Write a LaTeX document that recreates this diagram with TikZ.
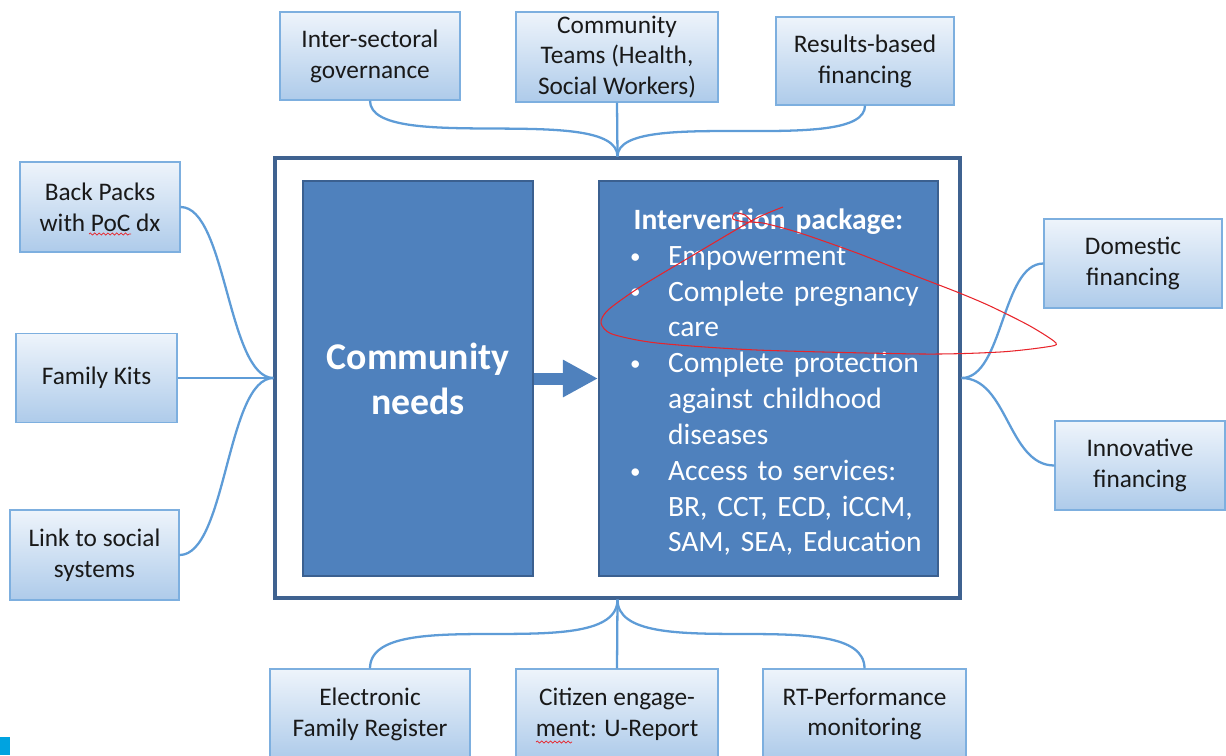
\documentclass[tikz,border=0pt]{standalone}
\usepackage{fontspec}
\setmainfont{Carlito}
\usetikzlibrary{arrows.meta,decorations.pathmorphing}
\definecolor{boxtop}{HTML}{EEF4FB}
\definecolor{boxbot}{HTML}{AECBEA}
\definecolor{boxline}{HTML}{7DAFDF}
\definecolor{linkblue}{HTML}{5E9CD7}
\definecolor{mainblue}{HTML}{4F81BD}
\definecolor{mainline}{HTML}{3B6090}
\definecolor{frameline}{HTML}{3F6290}
\definecolor{inkred}{HTML}{E8242B}
\definecolor{cornerblue}{HTML}{00A3E0}
\newcommand{\pkgitem}{\par\noindent\hspace*{0.42cm}\makebox[0.76cm][l]{\raisebox{1.2pt}{\fontsize{12}{12}\selectfont\textbullet}}}
\newcommand{\pkgcont}{\par\noindent\hspace*{1.18cm}}

\begin{document}
\begin{tikzpicture}[x=0.02cm, y=-0.02cm,
  sidebox/.style={draw=boxline, line width=0.7pt, top color=boxtop, bottom color=boxbot,
    align=center, font=\fontsize{14.4}{17.6}\selectfont, text=black!90, inner sep=0pt},
  mainbox/.style={draw=mainline, line width=1.2pt, fill=mainblue, text=white,
    minimum height=7.9cm, inner sep=0pt},
  linkline/.style={draw=linkblue, line width=1.3pt},
  squiggle/.style={inkred, line width=0.4pt, decorate,
    decoration={snake, amplitude=0.6pt, segment length=2.5pt}}]
  \useasboundingbox (0,0) rectangle (1226,755);

  \node[draw=frameline, line width=1.8pt, minimum width=13.7cm, minimum height=8.8cm, inner sep=0pt] at (617.5,378) (frame) {};

  \node[mainbox, minimum width=4.6cm, align=center, font=\bfseries\fontsize{21.5}{25.5}\selectfont] at (418,378.5) (needs) {Community\\needs};
  \node[mainbox, minimum width=6.78cm, text width=6.38cm, font=\fontsize{16.8}{20.4}\selectfont] at (768.5,378.5) (pkg) {%
    {\centering\bfseries\rule{0pt}{16pt}Intervention package:\par}
    \pkgitem Empowerment
    \pkgitem Complete pregnancy
    \pkgcont care
    \pkgitem Complete protection
    \pkgcont against childhood
    \pkgcont diseases
    \pkgitem Access to services:
    \pkgcont BR, CCT, ECD, iCCM,
    \pkgcont SAM, SEA, Education\par};

  \draw[mainblue, line width=0.24cm, -{Triangle[length=0.7cm, width=0.7cm]}] (needs) -- (pkg);

  \node[sidebox, minimum width=3.6cm, minimum height=1.76cm] at (370,56) (isg) {Inter-sectoral\\governance};
  \node[sidebox, minimum width=4.04cm, minimum height=1.8cm] at (617,57) (ctm) {Community\\Teams (Health,\\Social Workers)};
  \node[sidebox, minimum width=3.56cm, minimum height=1.76cm] at (865,61) (rbf) {Results-based\\financing};

  \node[sidebox, minimum width=3.2cm, minimum height=1.8cm] at (100,207) (bpk) {Back Packs\\with PoC dx};
  \node[sidebox, minimum width=3.22cm, minimum height=1.78cm] at (96.5,378) (fkt) {Family Kits};
  \node[sidebox, minimum width=3.38cm, minimum height=1.8cm] at (94.5,555) (lss) {Link to social\\systems};

  \node[sidebox, minimum width=3.56cm, minimum height=1.78cm] at (1133,263.5) (dom) {Domestic\\financing};
  \node[sidebox, minimum width=3.4cm, minimum height=1.78cm] at (1140,465.5) (inn) {Innovative\\financing};

  \node[sidebox, minimum width=4cm, minimum height=1.8cm] at (370,714) (efr) {Electronic\\Family Register};
  \node[sidebox, minimum width=4.04cm, minimum height=1.8cm] at (617,714) (cen) {Citizen engage-\\ment: U-Report};
  \node[sidebox, minimum width=4.06cm, minimum height=1.8cm] at (864.5,714) (rtp) {RT-Performance\\monitoring};

  \draw[linkline] (frame.north) to[out=90, in=-90, looseness=0.55] (isg.south);
  \draw[linkline] (frame.north) -- (ctm.south);
  \draw[linkline] (frame.north) to[out=90, in=-90, looseness=0.52] (rbf.south);

  \draw[linkline] (bpk.east) to[out=0, in=180, looseness=0.6] (frame.west);
  \draw[linkline] (fkt.east) -- (frame.west);
  \draw[linkline] (lss.east) to[out=0, in=180, looseness=0.6] (frame.west);

  \draw[linkline] (frame.east) to[out=0, in=180, looseness=0.76] (dom.west);
  \draw[linkline] (frame.east) to[out=0, in=180, looseness=0.93] (inn.west);

  \draw[linkline] (frame.south) to[out=-90, in=90, looseness=0.68] (efr.north);
  \draw[linkline] (frame.south) -- (cen.north);
  \draw[linkline] (frame.south) to[out=-90, in=90, looseness=0.68] (rtp.north);

  \draw[inkred, line width=0.6pt] plot[smooth, tension=0.45] coordinates {
    (783,207) (753,220) (690,257) (640,287) (608,310) (601,323) (612,334) (657,343)
    (757,350) (923,354) (1000,352) (1046,347) (1056,343) (1030,326) (990,306)
    (957,292) (900,270) (857,253) (800,233) (763,223) (745,222) (733,219) (735,213) (745,215) (752,222)};

  \draw[squiggle] (89,234) -- (131,234);
  \draw[squiggle] (536,742) -- (572,742);

  \fill[cornerblue] (0,737) rectangle (10,755);
\end{tikzpicture}
\end{document}
